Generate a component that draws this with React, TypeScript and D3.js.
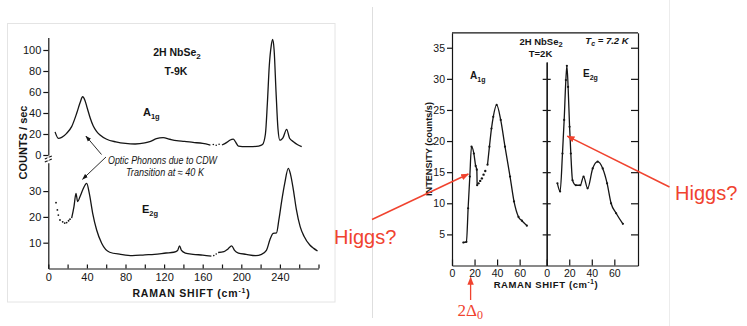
import React, { useEffect, useRef } from "react";
import * as d3 from "d3";

const W = 747;
const H = 326;
const RED = "#f0432f";
const INK = "#151515";
const FONT = "'Liberation Sans', Arial, sans-serif";

type Pt = [number, number];

// left figure: 2H NbSe2, T ~ 9K, counts/sec vs Raman shift (cm-1)
const a1g9K: Pt[] = [
  [7, 22], [10.4, 15.9], [13.9, 16.8], [19, 20.6], [24.2, 27], [29.4, 39.7],
  [33, 50], [35.6, 55.5], [38, 52], [40.4, 44.5], [43.5, 35], [46.6, 27.6],
  [50, 22.5], [53.6, 19], [60.5, 15], [70, 12.5], [80, 11], [90, 10.5],
  [100, 11.5], [106, 13], [112, 15.5], [119, 16.5], [126, 15], [133, 13.7],
  [141, 13], [150, 12], [160, 11], [168, 9.5],
];
const a1g9KGap: Pt[] = [[171, 10], [174, 9.3], [177, 10.2]];
const a1g9KHigh: Pt[] = [
  [180, 9.5], [185, 12], [188, 14], [191.7, 15.2], [194, 12.5], [197, 8.5],
  [205, 8], [212, 8], [218, 8.5], [222, 10], [225, 20], [227, 49], [229, 85],
  [231, 104], [232.5, 110], [234, 100], [236, 60], [238, 25], [240, 14],
  [243, 16], [247, 24.5], [250, 16], [254, 12.7], [258, 10], [262.6, 8],
];
const e2g9KDots: Pt[] = [
  [8, 25.5], [9.4, 22.7], [10.4, 20.7], [12.1, 18.8], [14.9, 18.1],
  [17, 17.6], [19, 17.8], [21, 18.5], [22.5, 19.1],
];
const e2g9K: Pt[] = [
  [24.2, 19.5], [26.6, 24], [28.7, 29.1], [30.4, 25.9], [32.8, 27.8],
  [35.6, 30.4], [39.8, 33], [42.5, 29.1], [46, 21.4], [50.1, 14.9],
  [55.3, 9.8], [63.6, 6.3], [75, 5.5], [87, 5], [100, 5.3], [110, 5.5],
  [122, 6], [130, 6.3], [134, 7], [136, 8.8], [138, 7], [142, 6], [150, 5.5],
  [160, 5.2], [169, 4.8],
];
const e2g9KGap: Pt[] = [[171.5, 5], [174, 5.6]];
const e2g9KHigh: Pt[] = [
  [176, 6.2], [182, 6.5], [186, 7.5], [190, 8.8], [193, 7], [197, 6],
  [205, 5.5], [215, 5], [221, 5.5], [226, 7], [230, 11.5], [233, 13.6],
  [236.5, 13.8], [239, 19], [242, 26.5], [245, 33], [248.7, 38.8],
  [251, 36.5], [254, 30.4], [257, 23], [261, 16.2], [265, 12.5], [271, 9.1],
  [275, 7.8], [279, 6.8],
];

// right figure: T = 2K, intensity (counts/s)
const a1g2K: Pt[] = [
  [10, 3.7], [12.8, 3.8], [14.3, 9.2], [15.8, 14.3], [17.3, 19.1],
  [19.4, 18], [21, 16], [22, 15.4], [22.3, 12.9],
];
const a1g2KDots: Pt[] = [[23.5, 13.2], [25, 13.6], [26.5, 14], [28, 14.6], [29.5, 15.2]];
const a1g2KHigh: Pt[] = [
  [31.5, 16.2], [33.2, 19.1], [35, 22], [36.6, 23.9], [39.6, 25.8],
  [43.2, 23.4], [47, 19.1], [51.5, 14.3], [55, 10.3], [59, 7.8], [62, 7.2],
  [66.4, 6.4],
];
const e2g2K: Pt[] = [
  [9.5, 13.2], [11.9, 11.9], [14, 18], [15.5, 23.4], [17, 29.8], [17.9, 32.1],
  [19, 28.7], [20.3, 22.3], [21.4, 18], [22.9, 13.7], [25.9, 12.9],
  [29.8, 12.9], [32.7, 14.3], [36.3, 12.4], [40.8, 15.6], [45.2, 16.7],
  [49.7, 15.6], [53.6, 13.2], [57.1, 10], [61.6, 8.4], [67.6, 6.7],
];

const upperTicks = [0, 20, 40, 60, 80, 100];
const lowerTicks = [10, 20, 30];
const shiftTicks = d3.range(0, 281, 20);
const rightYTicks = [5, 10, 15, 20, 25, 30, 35];
const rightXTicks = [0, 20, 40, 60];

const styleAxis = (sel: any, size = 11) => {
  sel.selectAll("path, line").attr("stroke", INK).attr("stroke-width", 1.2);
  sel.selectAll("text").attr("font-family", FONT).attr("font-size", size).attr("fill", INK);
};

const App = () => {
  const leftRef = useRef<SVGGElement>(null);
  const rightRef = useRef<SVGGElement>(null);

  const xL = d3.scaleLinear().domain([0, 280]).range([48.3, 318.5]);
  const yUp = d3.scaleLinear().domain([0, 112]).range([155, 37.4]);
  const yLo = d3.scaleLinear().domain([0, 41]).range([268.5, 162.7]);

  const xR1 = d3.scaleLinear().domain([0, 84]).range([452, 546.7]);
  const xR2 = d3.scaleLinear().domain([0, 81]).range([546.7, 638]);
  const yR = d3.scaleLinear().domain([0, 37.4]).range([265.5, 32.8]);
  const yDiv = yR.copy().domain([0, yR.invert(62)]).range([265.5, 62]);

  useEffect(() => {
    const g = d3.select(leftRef.current);
    g.selectAll("*").remove();
    const xAxis = d3.axisBottom(xL).tickValues(shiftTicks).tickSize(-4).tickSizeOuter(0).tickPadding(5)
      .tickFormat((d: any) => (d % 40 === 0 && d <= 240 ? String(d) : ""));
    g.append("g").attr("transform", `translate(0,${yLo(0)})`).call(xAxis).call(styleAxis);
    g.append("g").attr("transform", `translate(${xL(0)},0)`)
      .call(d3.axisLeft(yUp).tickValues(upperTicks).tickSize(5).tickSizeOuter(0).tickPadding(2)).call(styleAxis);
    g.append("g").attr("transform", `translate(${xL(0)},0)`)
      .call(d3.axisLeft(yLo).tickValues(lowerTicks).tickSize(5).tickSizeOuter(0).tickPadding(2)).call(styleAxis);
    g.selectAll(".domain").attr("fill", "none");
  }, []);

  useEffect(() => {
    const g = d3.select(rightRef.current);
    g.selectAll("*").remove();
    const y0 = yR(0);
    [xR1, xR2].forEach((xs) => {
      g.append("g").attr("transform", `translate(0,${y0})`)
        .call(d3.axisBottom(xs).tickValues(rightXTicks).tickSize(-6).tickSizeOuter(0).tickPadding(4)).call(styleAxis, 10.5);
    });
    g.append("g").attr("transform", `translate(${xR1(0)},0)`)
      .call(d3.axisLeft(yR).tickValues(rightYTicks).tickSize(5).tickSizeOuter(0).tickPadding(2)).call(styleAxis, 10.5);
    g.append("g").attr("transform", `translate(${xR2.range()[1]},0)`)
      .call(d3.axisRight(yR).tickValues(rightYTicks).tickSize(-7).tickSizeOuter(0).tickFormat(() => "")).call(styleAxis);
    g.append("g").attr("transform", `translate(${xR2(0)},0)`)
      .call(d3.axisLeft(yDiv).tickValues(rightYTicks.slice(0, 6)).tickSize(4).tickSizeOuter(0).tickFormat(() => "")).call(styleAxis);
    g.append("g").attr("transform", `translate(${xR2(0)},0)`)
      .call(d3.axisRight(yDiv).tickValues(rightYTicks.slice(0, 6)).tickSize(4).tickSizeOuter(0).tickFormat(() => "")).call(styleAxis);
    g.append("line").attr("x1", xR1(0)).attr("x2", xR2.range()[1]).attr("y1", yR(37.4)).attr("y2", yR(37.4))
      .attr("stroke", INK).attr("stroke-width", 1.2);
    g.selectAll(".domain").attr("fill", "none");
  }, []);

  const lineL = (ys: any) => d3.line<Pt>().x((d) => xL(d[0])).y((d) => ys(d[1])).curve(d3.curveMonotoneX);
  const lineR = (xs: any) => d3.line<Pt>().x((d) => xs(d[0])).y((d) => yR(d[1])).curve(d3.curveMonotoneX);

  const curve = (d: string | null, key: string) => (
    <path key={key} d={d || ""} fill="none" stroke={INK} strokeWidth={1.3} strokeLinejoin="round" />
  );
  const dots = (pts: Pt[], xs: any, ys: any, r: number, key: string) => (
    <g key={key}>
      {pts.map((p, i) => (
        <circle key={i} cx={xs(p[0])} cy={ys(p[1])} r={r} fill={INK} />
      ))}
    </g>
  );

  const txt = { fontFamily: FONT, fill: INK } as const;

  // annotation anchor points, in data units
  const tipA = [xL(39), yUp(18)];
  const tipE = [xL(35.5), yLo(34.6)];
  const higgsL = [xR1(14.5), yR(14.7)];
  const higgsR = [xR2(18.3), yR(20.8)];
  const gapX = xR1(16.5);

  return (
    <svg width={W} height={H} style={{ position: "absolute", left: 0, top: 0, background: "#fff" }}>
      <defs>
        <marker id="kHead" viewBox="0 0 10 10" refX="9" refY="5" markerWidth="6" markerHeight="6"
          markerUnits="userSpaceOnUse" orient="auto">
          <path d="M0,1.5 L10,5 L0,8.5 z" fill={INK} />
        </marker>
        <marker id="rHead" viewBox="0 0 10 10" refX="9" refY="5" markerWidth="8" markerHeight="8"
          markerUnits="userSpaceOnUse" orient="auto">
          <path d="M0,1 L10,5 L0,9 z" fill={RED} />
        </marker>
      </defs>
      <rect width={W} height={H} fill="#fff" />

      {/* slide frames */}
      <rect x={7.5} y={23.5} width={327.5} height={278.5} fill="none" stroke="#e4e4e4" />
      <line x1={372.5} x2={372.5} y1={7} y2={318} stroke="#dedede" />
      <line x1={669.5} x2={669.5} y1={0} y2={H} stroke="#ececec" />

      {/* left figure */}
      <g ref={leftRef} />
      <path d={`M${xL(0) - 3.5},${yUp(0) + 4} l7,-3 M${xL(0) - 3.5},${yUp(0) + 7} l7,-3`} stroke={INK} strokeWidth={1.1} />
      <rect x={xL(0) - 1} y={yUp(0) + 2.2} width={2} height={3.5} fill="#fff" />
      {curve(lineL(yUp)(a1g9K), "a1")}
      {dots(a1g9KGap, xL, yUp, 0.8, "a1g")}
      {curve(lineL(yUp)(a1g9KHigh), "a1h")}
      {dots(e2g9KDots, xL, yLo, 0.9, "e2d")}
      {curve(lineL(yLo)(e2g9K), "e2")}
      {dots(e2g9KGap, xL, yLo, 0.8, "e2g")}
      {curve(lineL(yLo)(e2g9KHigh), "e2h")}

      <text {...txt} x={177} y={56} fontSize={10.5} textAnchor="middle" fontWeight="bold">
        2H NbSe<tspan fontSize={8} dy={2.5}>2</tspan>
      </text>
      <text {...txt} x={176} y={75} fontSize={10.5} textAnchor="middle" fontWeight="bold">T-9K</text>
      <text {...txt} x={143} y={116} fontSize={11} fontWeight="bold">
        A<tspan fontSize={7.5} dy={2.5}>1g</tspan>
      </text>
      <text {...txt} x={142} y={213} fontSize={11} fontWeight="bold">
        E<tspan fontSize={7.5} dy={2.5}>2g</tspan>
      </text>
      <text {...txt} x={108} y={164} fontSize={10} fontStyle="italic" textLength={109} lengthAdjust="spacingAndGlyphs">
        Optic Phonons due to CDW
      </text>
      <text {...txt} x={126} y={176} fontSize={10} fontStyle="italic" textLength={78} lengthAdjust="spacingAndGlyphs">
        Transition at ≈ 40 K
      </text>
      <line x1={101.5} y1={154.5} x2={tipA[0]} y2={tipA[1]} stroke={INK} strokeWidth={0.9} markerEnd="url(#kHead)" />
      <line x1={106} y1={157} x2={tipE[0]} y2={tipE[1]} stroke={INK} strokeWidth={0.9} markerEnd="url(#kHead)" />
      <text {...txt} transform={`translate(27,142.5) rotate(-90)`} fontSize={11} fontWeight="bold" textAnchor="middle">
        COUNTS / sec
      </text>
      <text {...txt} x={191.5} y={297} fontSize={10.5} fontWeight="bold" textAnchor="middle" letterSpacing={0.8}>
        RAMAN SHIFT (cm<tspan fontSize={7} dy={-4}>-1</tspan><tspan dy={4}>)</tspan>
      </text>

      {/* right figure */}
      <g ref={rightRef} />
      {curve(lineR(xR1)(a1g2K), "ra1")}
      {dots(a1g2K, xR1, yR, 1.1, "ra1p")}
      {dots(a1g2KDots, xR1, yR, 1.2, "ra1d")}
      {curve(lineR(xR1)(a1g2KHigh), "ra1h")}
      {dots(a1g2KHigh, xR1, yR, 1.1, "ra1hp")}
      {curve(lineR(xR2)(e2g2K), "re2")}
      {dots(e2g2K, xR2, yR, 1.1, "re2p")}

      <text {...txt} x={541} y={44.5} fontSize={9.5} textAnchor="middle" fontWeight="bold">
        2H NbSe<tspan fontSize={7.5} dy={2.5}>2</tspan>
      </text>
      <text {...txt} x={540.5} y={56.5} fontSize={9.5} textAnchor="middle" fontWeight="bold">T=2K</text>
      <text {...txt} x={607} y={44} fontSize={9.5} textAnchor="middle" fontStyle="italic" fontWeight="bold">
        T<tspan fontSize={7} dy={2}>c</tspan><tspan dy={-2}> = 7.2 K</tspan>
      </text>
      <text {...txt} x={470} y={79} fontSize={10} fontWeight="bold">
        A<tspan fontSize={7} dy={2.5}>1g</tspan>
      </text>
      <text {...txt} x={583} y={77} fontSize={10} fontWeight="bold">
        E<tspan fontSize={7} dy={2.5}>2g</tspan>
      </text>
      <text {...txt} transform={`translate(432,149) rotate(-90)`} fontSize={9} fontWeight="bold" textAnchor="middle"
        textLength={94} lengthAdjust="spacingAndGlyphs">
        INTENSITY (counts/s)
      </text>
      <text {...txt} x={546} y={287.5} fontSize={9.5} fontWeight="bold" textAnchor="middle" letterSpacing={0.6}>
        RAMAN SHIFT (cm<tspan fontSize={6.5} dy={-4}>-1</tspan><tspan dy={4}>)</tspan>
      </text>

      {/* red annotations */}
      <line x1={372} y1={219.5} x2={higgsL[0]} y2={higgsL[1]} stroke={RED} strokeWidth={1.5} markerEnd="url(#rHead)" />
      <line x1={669.5} y1={187} x2={higgsR[0]} y2={higgsR[1]} stroke={RED} strokeWidth={1.5} markerEnd="url(#rHead)" />
      <line x1={gapX} y1={300} x2={gapX} y2={277.5} stroke={RED} strokeWidth={1.3} markerEnd="url(#rHead)" />
      <text x={334} y={243.5} fontFamily={FONT} fontSize={20} fill={RED}>Higgs?</text>
      <text x={675} y={200} fontFamily={FONT} fontSize={20} fill={RED}>Higgs?</text>
      <text x={457.5} y={316} fontFamily="'Liberation Serif', 'Times New Roman', serif" fontSize={17} fill={RED}>
        2Δ<tspan fontSize={12} dy={3}>0</tspan>
      </text>
    </svg>
  );
};

export default App;
